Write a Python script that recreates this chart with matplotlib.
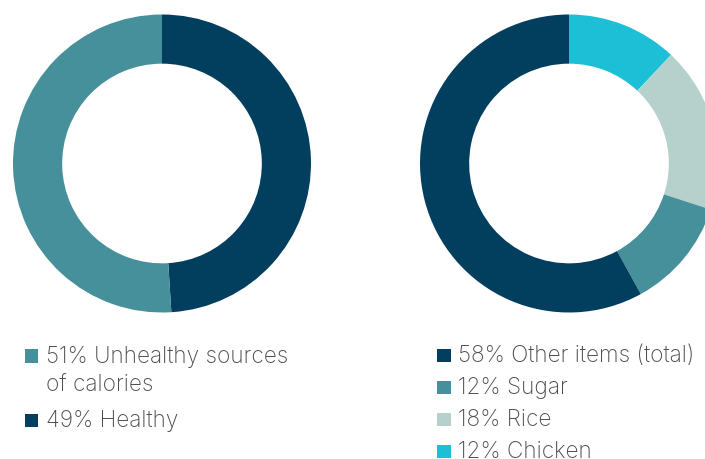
import matplotlib.pyplot as plt

# donut data
left_labels = ["49% Healthy", "51% Unhealthy sources\nof calories"]
left_values = [49, 51]
right_labels = ["12% Chicken", "18% Rice", "12% Sugar", "58% Other items (total)"]
right_values = [12, 18, 12, 58]

NAVY = "#023f5f"
TEAL = "#45909b"
SAGE = "#b6d0cc"
CYAN = "#1dbfd6"
TEXT = "#4d4d4d"

left_colors = [NAVY, TEAL]
right_colors = [CYAN, SAGE, TEAL, NAVY]

W, H = 705, 459
FONT = "Inter"
FS = 16.3
fig = plt.figure(figsize=(W / 100, H / 100), dpi=100)

def donut(cx, cy, r, values, colors):
    ax = fig.add_axes([(cx - r) / W, (H - cy - r) / H, 2 * r / W, 2 * r / H])
    ax.pie(values, colors=colors, startangle=90, counterclock=False,
           radius=1.0, wedgeprops=dict(width=0.33, linewidth=0))
    ax.set_xlim(-1, 1); ax.set_ylim(-1, 1)
    ax.set_aspect("equal")
    ax.axis("off")
    return ax

donut(162, 163.5, 149, left_values, left_colors)
donut(569, 163.5, 149, right_values, right_colors)

def px(x, y):
    return x / W, 1 - y / H

def legend_item(x, baseline, text, color):
    sq = 13.5
    fig.patches.append(plt.Rectangle((x / W, (H - baseline) / H), sq / W, sq / H,
                                     transform=fig.transFigure, color=color, lw=0))
    fig.text(*px(x + 21, baseline), text, fontsize=FS, color=TEXT,
             family=FONT, weight="light", va="baseline", ha="left")

# left legend (the unhealthy item wraps onto a second line)
legend_item(24.5, 362.5, "51% Unhealthy sources", TEAL)
fig.text(*px(45.5, 391), "of calories", fontsize=FS, color=TEXT,
         family=FONT, weight="light", va="baseline")
legend_item(24.5, 427, "49% Healthy", NAVY)

# right legend, listed from the largest slice down
for i, (lab, col) in enumerate(zip(right_labels[::-1], right_colors[::-1])):
    legend_item(437, 362 + i * 32, lab, col)

fig.savefig("out.png", dpi=100, facecolor="white")
